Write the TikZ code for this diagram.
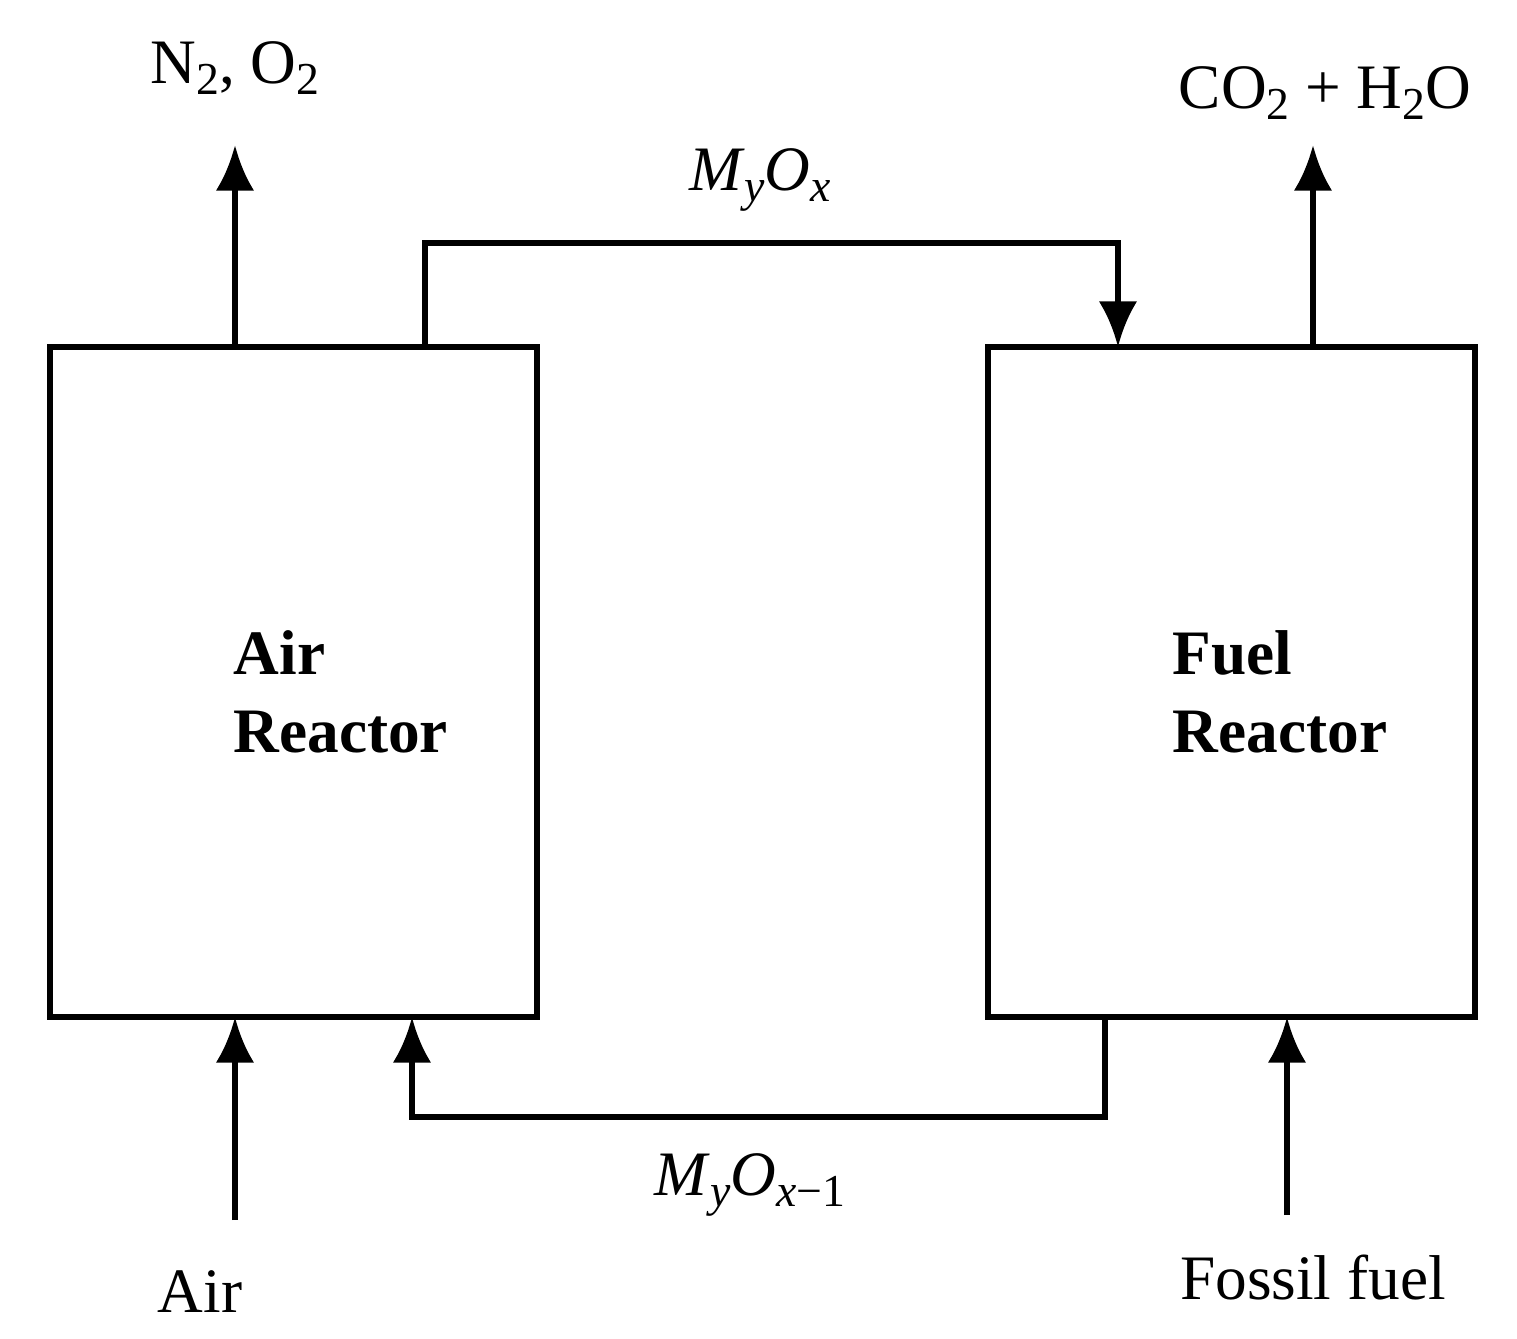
\documentclass[tikz,border=0pt]{standalone}
\usepackage{fontspec}
\setmainfont{Liberation Serif}
\usetikzlibrary{arrows.meta}
\newcommand{\mysub}[1]{\raisebox{-0.35ex}{\fontsize{13}{14}\selectfont #1}}
\begin{document}
\begin{tikzpicture}[x=0.01cm,y=-0.01cm,
  box/.style={draw,line width=1.8pt,inner sep=0pt,minimum width=4.87cm,minimum height=6.7cm},
  flow/.style={line width=1.8pt,-{Latex[length=13pt,width=11pt]}},
  lbl/.style={font=\fontsize{18}{20}\selectfont,inner sep=0pt},
  blbl/.style={font=\fontsize{18}{22}\selectfont\bfseries,align=left,inner sep=0pt}]
\useasboundingbox (0,0) rectangle (1517,1339);
\node[box] (ar) at (293.5,682) {};
\node[box] (fr) at (1231.5,682) {};
\coordinate (arTop1) at (235,347);
\coordinate (arTop2) at (425,347);
\coordinate (arBot1) at (235,1017);
\coordinate (arBot2) at (412,1017);
\coordinate (frTop1) at (1118,347);
\coordinate (frTop2) at (1313,347);
\coordinate (frBot1) at (1105,1017);
\coordinate (frBot2) at (1287,1017);
\coordinate (n2end) at (235,145);
\coordinate (co2end) at (1313,145);
\coordinate (airstart) at (235,1220);
\coordinate (fuelstart) at (1287,1215);
\node[blbl,anchor=west] (arl) at (233,692) {Air\\Reactor};
\node[blbl,anchor=west] (frl) at (1172,692) {Fuel\\Reactor};
\draw[flow] (arTop1) -- (n2end);
\draw[flow] (frTop2) -- (co2end);
\draw[flow] (airstart) -- (arBot1);
\draw[flow] (fuelstart) -- (frBot2);
\draw[flow] (arTop2) |- (760,243) -| (frTop1);
\draw[flow] (frBot1) |- (760,1117) -| (arBot2);
\node[lbl] (n2) at (235,68) {N\mysub{2}, O\mysub{2}};
\node[lbl] (co2) at (1325,93) {CO\mysub{2} + H\mysub{2}O};
\node[lbl] (moa) at (760,180) {\textit{M}\mysub{\textit{y}}\textit{O}\mysub{\textit{x}}};
\node[lbl] (mob) at (750,1185) {\textit{M}\mysub{\textit{y}}\textit{O}\mysub{\textit{x}−1}};
\node[lbl] (air) at (200,1292) {Air};
\node[lbl] (ff) at (1313,1278) {Fossil fuel};
\end{tikzpicture}
\end{document}
